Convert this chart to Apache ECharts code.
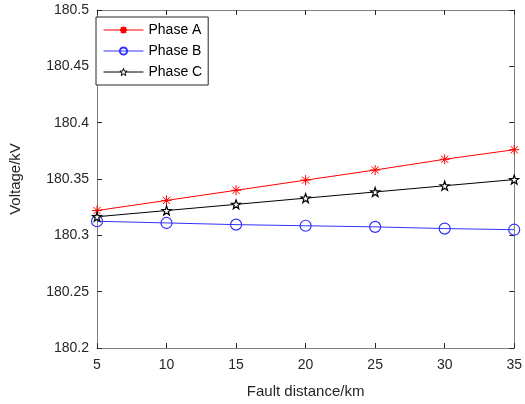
<!DOCTYPE html>
<html>
<head>
<meta charset="utf-8">
<script src="https://cdn.jsdelivr.net/npm/echarts@6/dist/echarts.min.js"></script>
<style>
    html, body { margin: 0; padding: 0; background: #fff; }
    #chart { width: 525px; height: 404px; }
</style>
</head>
<body>
<div id="chart"></div>
<script>
// 数据
const distances = [5, 10, 15, 20, 25, 30, 35];
const phaseA = [180.322, 180.331, 180.340, 180.349, 180.358, 180.3675, 180.376];
const phaseB = [180.3125, 180.311, 180.3095, 180.3085, 180.3075, 180.306, 180.305];
const phaseC = [180.3165, 180.322, 180.3275, 180.333, 180.3385, 180.344, 180.3495];
const seriesNames = ['Phase A', 'Phase B', 'Phase C'];

// MATLAB 风格标记
const ASTERISK = 'path://M0,-5L0,5M-5,0L5,0M-3.6,-3.6L3.6,3.6M-3.6,3.6L3.6,-3.6';
const PENTAGRAM = 'path://M0,-5L1.18,-1.62L4.76,-1.55L1.9,0.62L2.94,4.05L0,2L-2.94,4.05L-1.9,0.62L-4.76,-1.55L-1.18,-1.62Z';

function pairs(ys) {
    return distances.map((x, i) => [x, ys[i]]);
}

const axisColor = '#808080';
const textColor = '#262626';
const font = 'Liberation Sans, Arial, sans-serif';

const chart = echarts.init(document.getElementById('chart'));
chart.setOption({
    animation: false,
    backgroundColor: '#fff',
    textStyle: { fontFamily: font },
    grid: { left: 87, right: 10, top: 10, bottom: 52 },
    legend: {
        left: 96, top: 17,
        orient: 'vertical',
        data: [
            { name: seriesNames[0] },
            { name: seriesNames[1] },
            { name: seriesNames[2], itemStyle: { color: '#fff', borderColor: '#000', borderWidth: 1 } }
        ],
        itemWidth: 40, itemHeight: 9, itemGap: 7,
        lineStyle: { width: 1 },
        backgroundColor: '#fff',
        borderColor: '#262626', borderWidth: 1,
        padding: [6, 6, 6, 7],
        textStyle: { fontSize: 14, color: '#000', fontFamily: font }
    },
    xAxis: [{
        type: 'value', min: 5, max: 35, interval: 5,
        name: 'Fault distance/km', nameLocation: 'middle', nameGap: 36,
        nameTextStyle: { fontSize: 15, color: textColor, fontFamily: font },
        axisLine: { lineStyle: { color: axisColor, width: 1 } },
        axisTick: { inside: true, length: 5, lineStyle: { color: '#262626' } },
        axisLabel: { fontSize: 14, color: textColor, margin: 10 },
        splitLine: { show: false }
    }, {
        type: 'value', min: 5, max: 35, interval: 5, position: 'top',
        axisLine: { lineStyle: { color: axisColor, width: 1 } },
        axisTick: { inside: true, length: 5, lineStyle: { color: '#262626' } },
        axisLabel: { show: false },
        splitLine: { show: false }
    }],
    yAxis: [{
        type: 'value', min: 180.2, max: 180.5, interval: 0.05,
        name: 'Voltage/kV', nameLocation: 'middle', nameGap: 74,
        nameTextStyle: { fontSize: 15, color: textColor, fontFamily: font },
        axisLine: { show: true, lineStyle: { color: axisColor, width: 1 } },
        axisTick: { show: true, inside: true, length: 5, lineStyle: { color: '#262626' } },
        axisLabel: {
            fontSize: 14, color: textColor, margin: 8,
            formatter: v => String(+v.toFixed(2))
        },
        splitLine: { show: false }
    }, {
        type: 'value', min: 180.2, max: 180.5, interval: 0.05, position: 'right',
        axisLine: { show: true, lineStyle: { color: axisColor, width: 1 } },
        axisTick: { show: true, inside: true, length: 5, lineStyle: { color: '#262626' } },
        axisLabel: { show: false },
        splitLine: { show: false }
    }],
    series: [{
        name: 'Phase A', type: 'line', data: pairs(phaseA),
        symbol: ASTERISK, symbolSize: 10,
        lineStyle: { color: '#ff0000', width: 1 },
        itemStyle: { color: '#ff0000', borderColor: '#ff0000', borderWidth: 1 }
    }, {
        name: 'Phase B', type: 'line', data: pairs(phaseB),
        symbol: 'circle', symbolSize: 11,
        lineStyle: { color: '#3333ff', width: 1 },
        itemStyle: { color: 'rgba(0,0,0,0)', borderColor: '#3333ff', borderWidth: 1.2 }
    }, {
        name: 'Phase C', type: 'line', data: pairs(phaseC),
        symbol: PENTAGRAM, symbolSize: 9,
        lineStyle: { color: '#000', width: 1 },
        itemStyle: { color: '#fff', borderColor: '#000', borderWidth: 1.2 }
    }]
});
</script>
</body>
</html>
